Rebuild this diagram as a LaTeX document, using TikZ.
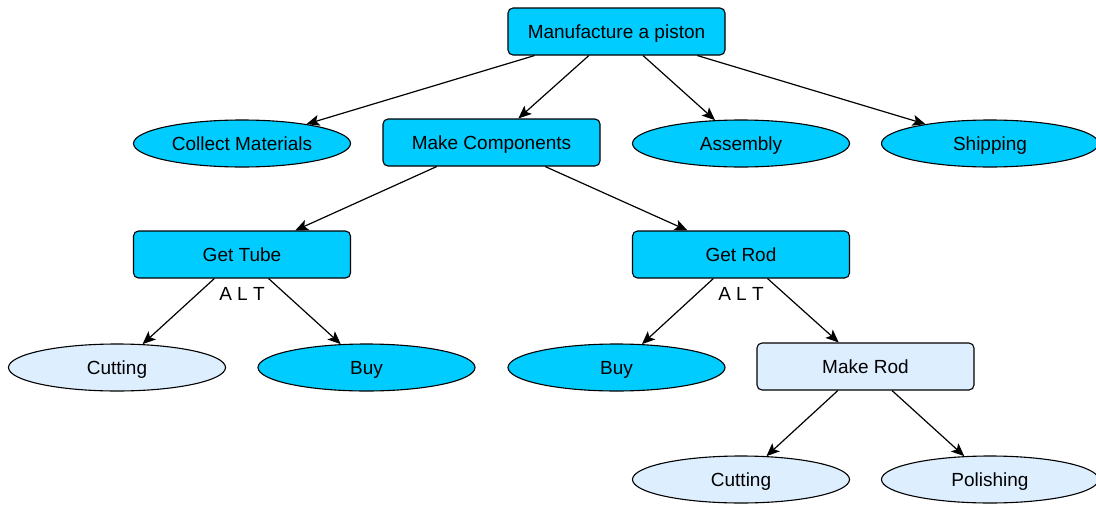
\documentclass[tikz,border=0pt]{standalone}
\usepackage{fontspec}
\setmainfont{Liberation Sans}
\usetikzlibrary{shapes.geometric,arrows.meta}
\definecolor{taskfill}{HTML}{00CCFF}
\definecolor{altfill}{HTML}{DDEEFF}
\begin{document}
\begin{tikzpicture}[x=1pt,y=-1pt,
  every node/.style={font=\fontsize{19}{22}\selectfont, text=black,
                     text height=13.6pt, text depth=0pt},
  box/.style={draw, line width=1.1pt, rounded corners=5pt, fill=taskfill,
              minimum width=217pt, minimum height=47pt, inner sep=0pt},
  oval/.style={draw, line width=1.1pt, ellipse, fill=taskfill,
               minimum width=217pt, minimum height=47pt, inner sep=0pt},
  light/.style={fill=altfill},
  link/.style={draw, line width=1.2pt, -{Stealth[length=13pt,width=11pt,inset=3pt]}}]
\useasboundingbox (0,0) rectangle (1096,504);

% level 0
\node[box] (root) at (616.5,31.5) {Manufacture a piston};
% level 1
\node[oval] (collect) at (242,143.5) {Collect Materials};
\node[box] (make) at (491.5,142.5) {Make Components};
\node[oval] (assembly) at (741,143.5) {Assembly};
\node[oval] (ship) at (990,143.5) {Shipping};
% level 2
\node[box] (tube) at (242,254.5) {Get Tube};
\node[box] (rod) at (741,254.5) {Get Rod};
% level 3
\node[oval, light] (cut1) at (117,367.5) {Cutting};
\node[oval] (buy1) at (366.5,367.5) {Buy};
\node[oval] (buy2) at (616.5,367.5) {Buy};
\node[box, light] (mrod) at (865.5,366.5) {Make Rod};
% level 4
\node[oval, light] (cut2) at (741,479.5) {Cutting};
\node[oval, light] (polish) at (990,479.5) {Polishing};

% alternative markers
\node (alt1) at (242,293.5) {A L T};
\node (alt2) at (741,293.5) {A L T};

% connectors leave the parent's lower edge at fixed fractions of its width
\path[link] ([xshift=27.1pt]root.south west) -- (collect);
\path[link] ([xshift=81.4pt]root.south west) -- (make);
\path[link] ([xshift=135.6pt]root.south west) -- (assembly);
\path[link] ([xshift=189.9pt]root.south west) -- (ship);

\path[link] ([xshift=54.25pt]make.south west) -- (tube);
\path[link] ([xshift=162.75pt]make.south west) -- (rod);

\path[link] ([xshift=81.4pt]tube.south west) -- (cut1);
\path[link] ([xshift=135.6pt]tube.south west) -- (buy1);

\path[link] ([xshift=81.4pt]rod.south west) -- (buy2);
\path[link] ([xshift=135.6pt]rod.south west) -- (mrod);

\path[link] ([xshift=81.4pt]mrod.south west) -- (cut2);
\path[link] ([xshift=135.6pt]mrod.south west) -- (polish);
\end{tikzpicture}
\end{document}
